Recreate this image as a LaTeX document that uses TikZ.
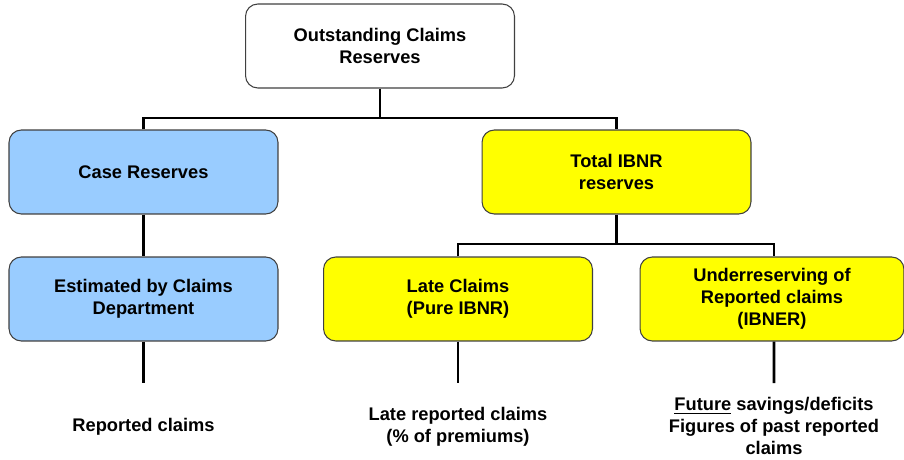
\documentclass[tikz,border=0pt]{standalone}
\usepackage{fontspec}
\setmainfont{Liberation Sans}
\usetikzlibrary{positioning}
\definecolor{caseblue}{HTML}{99CCFF}
\definecolor{ibnryellow}{HTML}{FFFF00}
\tikzset{
  resbox/.style={draw=black!75, line width=0.6pt, rounded corners=7pt, align=center,
    minimum width=5.38cm, minimum height=1.68cm, inner sep=2pt,
    font=\fontsize{10.4}{12.5}\selectfont\bfseries},
  restext/.style={align=center, inner sep=0pt, font=\fontsize{10.4}{12.5}\selectfont\bfseries},
  link/.style={line width=1.6pt, black}
}
\begin{document}
\begin{tikzpicture}[x=0.02cm, y=-0.02cm]
  \useasboundingbox (0,0) rectangle (904,460);

  %%%%% boxes %%%%%
  \node[resbox, fill=white] (top) at (380,46) {Outstanding Claims\\Reserves};
  \node[resbox, fill=caseblue] (case) at (143.5,172) {Case Reserves};
  \node[resbox, fill=ibnryellow] (ibnr) at (616.5,172) {Total IBNR\\reserves};
  \node[resbox, fill=caseblue] (estim) at (143.5,299) {Estimated by Claims\\Department};
  \node[resbox, fill=ibnryellow] (late) at (458,299) {Late Claims\\(Pure IBNR)};
  \node[resbox, fill=ibnryellow, minimum width=5.28cm] (under) at (772,299) {Underreserving of\\Reported claims\\(IBNER)};

  %%%%% bottom texts %%%%%
  \node[restext] (reported) at (143.5,427) {Reported claims};
  \node[restext] (latetxt) at (458,426.5) {Late reported claims\\(\% of premiums)};
  \node[restext] (future) at (774,426) {\underline{Future} savings/deficits\\Figures of past reported\\claims};

  %%%%% connectors %%%%%
  \coordinate (topfork) at (380,118);
  \coordinate (ibnrfork) at (616.5,244);
  \coordinate (estimend) at (143.5,383);
  \coordinate (lateend) at (458,383);
  \coordinate (underend) at (774,383);

  \draw[link] (top) -- (topfork);
  \draw[link] (case.north) |- (topfork) -| (ibnr.north);
  \draw[link] (case) -- (estim);
  \draw[link] (ibnr) -- (ibnrfork);
  \draw[link] (late.north) |- (ibnrfork) -| ([xshift=0.04cm]under.north);
  \draw[link] (estim) -- (estimend);
  \draw[link] (late) -- (lateend);
  \draw[link] ([xshift=0.04cm]under.south) -- (underend);
\end{tikzpicture}
\end{document}
